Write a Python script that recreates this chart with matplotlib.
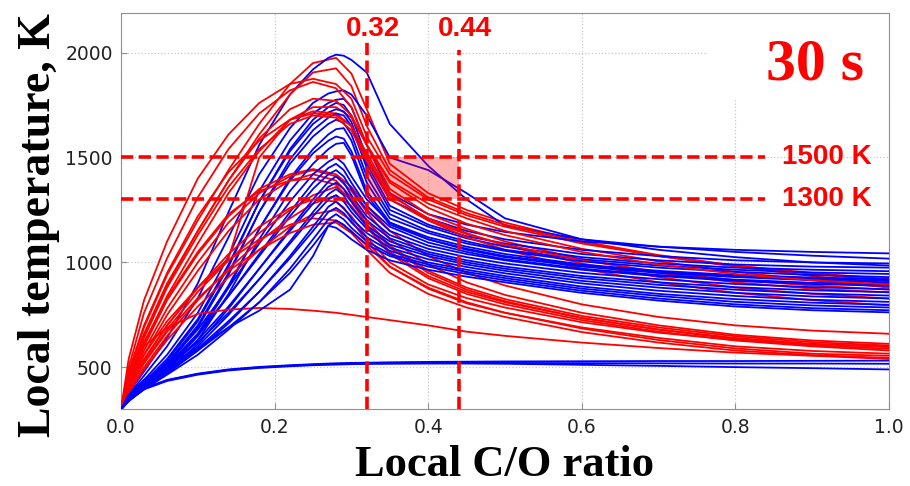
import matplotlib
matplotlib.use("Agg")
import matplotlib.pyplot as plt
from matplotlib.patches import Rectangle

# C/O ratio sample points for the two sets of curves
co_red = [0.0, 0.01, 0.03, 0.06, 0.1, 0.14, 0.18, 0.22, 0.25, 0.28, 0.3,
          0.32, 0.35, 0.4, 0.45, 0.5, 0.6, 0.7, 0.8, 0.9, 1.0]
co_blue = [0.0, 0.01, 0.03, 0.06, 0.1, 0.14, 0.18, 0.22, 0.25, 0.27, 0.28, 0.29,
           0.3, 0.32, 0.35, 0.4, 0.45, 0.5, 0.6, 0.7, 0.8, 0.9, 1.0]

# local temperature (K) along each red trajectory
red_curves = [
    [300, 470, 690, 940, 1200, 1440, 1660, 1850, 1950, 1975, 1900, 1730, 1470, 1330, 1250, 1190, 1100, 1035, 985, 945, 913],
    [300, 460, 660, 900, 1150, 1390, 1610, 1800, 1905, 1925, 1840, 1650, 1440, 1310, 1235, 1180, 1095, 1030, 980, 935, 898],
    [300, 540, 820, 1100, 1400, 1610, 1760, 1850, 1875, 1850, 1780, 1600, 1420, 1300, 1225, 1170, 1090, 1030, 985, 950, 920],
    [300, 500, 760, 1020, 1310, 1540, 1710, 1820, 1860, 1830, 1740, 1560, 1390, 1280, 1210, 1150, 1065, 1005, 955, 915, 880],
    [300, 440, 610, 840, 1090, 1330, 1530, 1680, 1740, 1740, 1690, 1560, 1350, 1230, 1160, 1100, 1015, 950, 905, 875, 857],
    [300, 400, 530, 700, 880, 1020, 1500, 1680, 1720, 1710, 1650, 1500, 1320, 1210, 1140, 1080, 995, 930, 880, 850, 828],
    [300, 480, 700, 950, 1220, 1430, 1580, 1680, 1710, 1700, 1650, 1520, 1330, 1200, 1120, 1060, 970, 905, 855, 820, 795],
    [300, 450, 640, 880, 1130, 1360, 1540, 1660, 1700, 1690, 1630, 1480, 1300, 1200, 1135, 1085, 1010, 955, 915, 890, 870],
    [300, 430, 600, 820, 1040, 1220, 1350, 1420, 1445, 1420, 1360, 1270, 1150, 1030, 950, 890, 800, 740, 700, 675, 660],
    [300, 420, 580, 780, 1000, 1190, 1330, 1410, 1440, 1410, 1340, 1240, 1110, 990, 905, 845, 760, 700, 655, 628, 612],
    [300, 410, 560, 750, 960, 1150, 1300, 1390, 1420, 1390, 1310, 1200, 1080, 960, 880, 825, 745, 690, 648, 620, 604],
    [300, 450, 620, 830, 1050, 1230, 1340, 1390, 1400, 1370, 1290, 1180, 1050, 935, 860, 810, 735, 680, 640, 612, 596],
    [300, 400, 520, 680, 860, 1010, 1140, 1250, 1320, 1360, 1300, 1200, 1070, 950, 870, 815, 735, 680, 635, 605, 588],
    [300, 390, 500, 650, 820, 970, 1100, 1210, 1280, 1320, 1270, 1170, 1040, 925, 850, 800, 725, 670, 628, 600, 580],
    [300, 410, 540, 700, 880, 1040, 1170, 1260, 1300, 1290, 1220, 1120, 1000, 895, 830, 785, 715, 665, 630, 610, 600],
    [300, 380, 490, 630, 790, 930, 1060, 1170, 1230, 1250, 1200, 1100, 980, 875, 805, 760, 690, 640, 600, 578, 565],
    [300, 420, 560, 720, 880, 1010, 1110, 1180, 1210, 1200, 1150, 1080, 980, 880, 810, 760, 685, 630, 590, 565, 555],
    [300, 400, 520, 670, 830, 960, 1060, 1140, 1180, 1190, 1140, 1060, 950, 850, 785, 740, 668, 618, 580, 558, 545],
    [300, 420, 600, 690, 755, 775, 783, 778, 770, 760, 750, 740, 725, 700, 670, 650, 618, 592, 570, 555, 540],
    [300, 460, 650, 890, 1150, 1390, 1590, 1730, 1780, 1770, 1700, 1560, 1380, 1260, 1185, 1130, 1050, 990, 945, 915, 895],
]

# local temperature (K) along each blue trajectory
blue_curves = [
    [300, 380, 480, 640, 900, 1240, 1560, 1800, 1920, 1975, 1990, 1985, 1965, 1905, 1660, 1460, 1300, 1175, 1110, 1075, 1050, 1032, 1018],
    [300, 370, 460, 600, 830, 1120, 1420, 1640, 1760, 1805, 1815, 1820, 1800, 1700, 1500, 1440, 1330, 1210, 1110, 1060, 1025, 1000, 985],
    [300, 360, 440, 560, 760, 1030, 1340, 1580, 1710, 1760, 1775, 1780, 1740, 1560, 1330, 1230, 1180, 1145, 1100, 1075, 1060, 1050, 1043],
    [300, 350, 420, 530, 720, 980, 1290, 1540, 1680, 1740, 1760, 1750, 1700, 1500, 1300, 1210, 1150, 1110, 1060, 1030, 1010, 1000, 995],
    [300, 355, 430, 540, 730, 990, 1290, 1530, 1660, 1715, 1730, 1720, 1670, 1470, 1270, 1180, 1125, 1090, 1040, 1010, 990, 980, 975],
    [300, 345, 410, 510, 690, 940, 1240, 1490, 1630, 1690, 1710, 1700, 1650, 1450, 1250, 1170, 1115, 1075, 1025, 995, 975, 965, 958],
    [300, 350, 420, 520, 700, 950, 1240, 1470, 1600, 1660, 1680, 1665, 1610, 1410, 1230, 1150, 1100, 1060, 1015, 985, 965, 952, 945],
    [300, 340, 400, 490, 650, 880, 1160, 1400, 1540, 1610, 1635, 1640, 1580, 1380, 1210, 1140, 1090, 1055, 1005, 975, 955, 940, 930],
    [300, 345, 410, 500, 660, 890, 1160, 1390, 1520, 1580, 1600, 1590, 1530, 1340, 1190, 1120, 1075, 1040, 990, 960, 940, 928, 920],
    [300, 340, 400, 485, 630, 850, 1110, 1340, 1470, 1540, 1565, 1570, 1510, 1320, 1180, 1110, 1065, 1030, 985, 955, 935, 922, 912],
    [300, 350, 420, 520, 680, 880, 1090, 1290, 1420, 1480, 1500, 1470, 1410, 1300, 1190, 1110, 1060, 1025, 980, 950, 930, 915, 905],
    [300, 345, 410, 500, 650, 840, 1040, 1240, 1380, 1450, 1470, 1440, 1380, 1270, 1170, 1095, 1050, 1015, 970, 940, 918, 903, 895],
    [300, 350, 420, 510, 660, 840, 1030, 1220, 1350, 1420, 1440, 1410, 1350, 1250, 1150, 1080, 1040, 1010, 965, 935, 912, 897, 888],
    [300, 340, 400, 480, 610, 780, 970, 1160, 1300, 1385, 1410, 1380, 1320, 1220, 1130, 1065, 1025, 995, 950, 920, 897, 882, 872],
    [300, 345, 410, 495, 630, 790, 970, 1150, 1280, 1360, 1380, 1350, 1290, 1200, 1115, 1050, 1010, 980, 935, 905, 882, 867, 858],
    [300, 340, 400, 480, 600, 750, 920, 1100, 1240, 1325, 1350, 1320, 1260, 1175, 1100, 1040, 1000, 970, 925, 893, 870, 852, 842],
    [300, 350, 415, 500, 620, 760, 920, 1090, 1220, 1300, 1320, 1290, 1240, 1160, 1085, 1030, 990, 960, 912, 880, 855, 838, 828],
    [300, 340, 395, 470, 580, 710, 860, 1030, 1170, 1265, 1290, 1260, 1210, 1140, 1070, 1015, 978, 948, 900, 865, 840, 822, 812],
    [300, 345, 405, 480, 590, 720, 860, 1020, 1150, 1240, 1260, 1235, 1190, 1120, 1055, 1000, 965, 935, 885, 850, 825, 808, 798],
    [300, 340, 395, 465, 560, 680, 810, 970, 1110, 1205, 1230, 1205, 1165, 1100, 1040, 990, 955, 925, 875, 840, 812, 795, 785],
    [300, 350, 410, 480, 580, 690, 810, 950, 1080, 1175, 1200, 1180, 1145, 1085, 1030, 980, 945, 915, 865, 828, 800, 782, 772],
    [300, 370, 440, 510, 590, 690, 770, 870, 1030, 1175, 1165, 1140, 1110, 1060, 1010, 965, 932, 905, 855, 818, 790, 772, 762],
    [300, 350, 400, 440, 470, 490, 502, 510, 515, 518, 519, 520, 521, 522, 524, 526, 527, 528, 529, 530, 530, 531, 532],
    [300, 348, 398, 438, 468, 488, 500, 508, 513, 516, 517, 518, 519, 520, 521, 522, 522, 521, 520, 519, 518, 518, 517],
    [300, 345, 395, 435, 465, 485, 497, 505, 510, 512, 513, 514, 515, 516, 517, 518, 518, 517, 512, 507, 501, 496, 490],
]

# thresholds marked on the chart
co_marks = [0.32, 0.44]
co_labels = ["0.32", "0.44"]
temp_marks = [1500, 1300]
temp_labels = ["1500 K", "1300 K"]

fig = plt.figure(figsize=(9.1, 4.86), dpi=100)
ax = fig.add_axes([121 / 910, 1 - 409.3 / 486, 768 / 910, 396.6 / 486])

# interleave the two sets so neither sits fully on top
n = max(len(red_curves), len(blue_curves))
for i in range(n):
    if i < len(red_curves):
        ax.plot(co_red, red_curves[i], color="red", lw=1.3, zorder=3)
    if i < len(blue_curves):
        ax.plot(co_blue, blue_curves[i], color="blue", lw=1.3, zorder=3)

ax.set_xlim(0, 1)
ax.set_ylim(300, 2190)
ax.set_xticks([0.0, 0.2, 0.4, 0.6, 0.8, 1.0])
ax.set_yticks([500, 1000, 1500, 2000])
ax.grid(True, color="#c8c8c8", linestyle=":", lw=0.9, zorder=0)
ax.set_axisbelow(True)
for s in ax.spines.values():
    s.set_color("#909090")
ax.tick_params(direction="in", length=4, color="#909090", labelsize=13.5,
               labelcolor="#222222", pad=6)

# white patch behind the time label
ax.add_patch(Rectangle((0.764, 1772), 0.236, 418, facecolor="white",
                       edgecolor="none", zorder=1))

# window of interest
ax.add_patch(Rectangle((co_marks[0], temp_marks[1]), co_marks[1] - co_marks[0],
                       temp_marks[0] - temp_marks[1], facecolor="red",
                       alpha=0.3, edgecolor="none", zorder=5))

dash = dict(color="red", lw=2.6, linestyle=(0, (3.4, 1.5)), zorder=6)
ax.plot([co_marks[0], co_marks[0]], [300, 2050], **dash)
ax.plot([co_marks[1], co_marks[1]], [300, 2012], **dash)
for t in temp_marks:
    ax.plot([0, 0.839], [t, t], **dash)

bold_sans = dict(color="red", fontsize=20, fontweight="bold",
                 family="Liberation Sans", zorder=7)
for c, lab in zip(co_marks, co_labels):
    ax.text(c + 0.008, 2111, lab, ha="center", va="center", **bold_sans)
for t, lab in zip(temp_marks, temp_labels):
    ax.text(0.919, t, lab, ha="center", va="center", **bold_sans)

ax.text(0.904, 1870, "30 s", ha="center", va="baseline", color="red",
        fontsize=43, fontweight="bold", family="Liberation Serif", zorder=7)

fig.text(505 / 910, 1 - 476 / 486, "Local C/O ratio", ha="center",
         va="baseline", fontsize=32, fontweight="bold", family="Liberation Serif")
fig.text(50 / 910, 1 - 225 / 486, "Local temperature, K", ha="center",
         va="baseline", rotation=90, rotation_mode="anchor", fontsize=33,
         fontweight="bold", family="Liberation Serif")

fig.savefig("out.png", dpi=100)
